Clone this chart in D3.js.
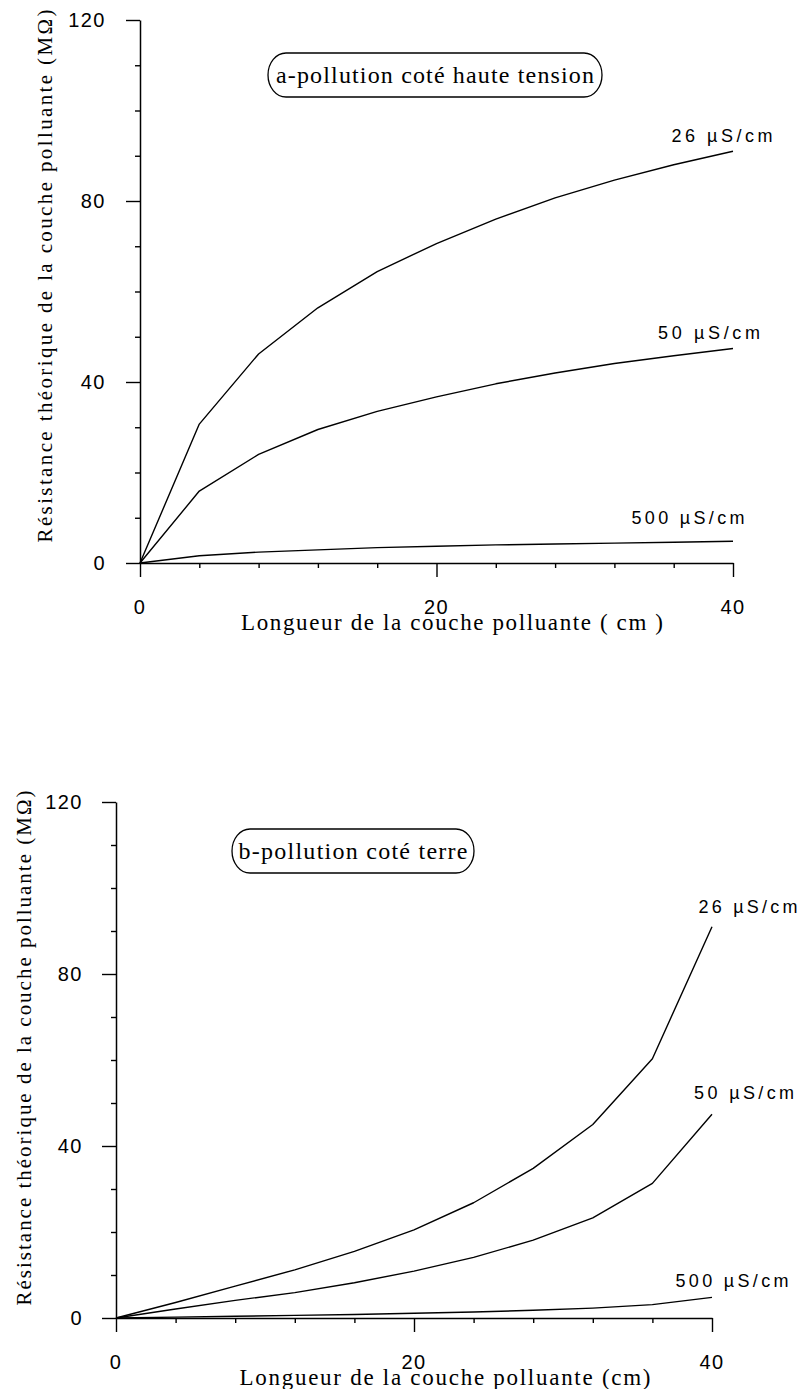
<!DOCTYPE html>
<html>
<head>
<meta charset="utf-8">
<script src="https://cdn.jsdelivr.net/npm/d3@7/dist/d3.min.js"></script>
<style>
  html, body { margin: 0; padding: 0; background: #fff; }
  svg { display: block; }
</style>
</head>
<body>
<script>
// Longueur de la couche polluante (cm)
const lengths = [0, 4, 8, 12, 16, 20, 24, 28, 32, 36, 40];

// Conductivités de la couche
const conductivities = ["26 µS/cm", "50 µS/cm", "500 µS/cm"];

// a - pollution côté haute tension : résistance (MΩ)
const rHT26  = [0, 30.7, 46.2, 56.4, 64.4, 70.6, 76.0, 80.7, 84.6, 88.0, 91.0];
const rHT50  = [0, 15.9, 24.0, 29.5, 33.5, 36.7, 39.6, 42.0, 44.1, 45.8, 47.4];
const rHT500 = [0, 1.6, 2.4, 2.9, 3.4, 3.7, 4.0, 4.2, 4.4, 4.6, 4.8];

// b - pollution côté terre : résistance (MΩ)
const rT26  = [0, 3.6, 7.4, 11.2, 15.5, 20.5, 26.8, 34.8, 45.0, 60.3, 91.0];
const rT50  = [0, 2.1, 4.1, 5.9, 8.2, 10.9, 14.1, 18.1, 23.3, 31.3, 47.4];
const rT500 = [0, 0.2, 0.4, 0.6, 0.8, 1.1, 1.4, 1.8, 2.3, 3.1, 4.8];

// Axes
const xMajorTicks = [0, 20, 40];
const xMinorTicks = [4, 8, 12, 16, 24, 28, 32, 36];
const yMajorTicks = [0, 40, 80, 120];
const yMinorTicks = [10, 20, 30, 50, 60, 70, 90, 100, 110];

const panelTitles = ["a-pollution coté haute tension", "b-pollution coté terre"];
const xAxisTitles = ["Longueur de la couche polluante ( cm )", "Longueur de la couche polluante (cm)"];
const yAxisTitle = "Résistance théorique de la couche polluante (MΩ)";

const W = 800, H = 1389;
const SANS = "'Liberation Sans', Arial, Helvetica, sans-serif";
const SERIF = "'Liberation Serif', 'Times New Roman', serif";

const svg = d3.select("body").append("svg")
  .attr("width", W).attr("height", H)
  .attr("viewBox", `0 0 ${W} ${H}`);
svg.append("rect").attr("width", W).attr("height", H).attr("fill", "#fff");

// Layout of the two stacked panels
const panels = [
  {
    series: [rHT26, rHT50, rHT500],
    title: panelTitles[0], xTitle: xAxisTitles[0],
    left: 140, right: 733, top: 20, bottom: 563,
    box: { x0: 268, x1: 602, y0: 53, y1: 97, textW: 318 },
    xTitlePos: { cx: 452, cy: 622, w: 422 },
    yTitlePos: { cx: 45, cy: 276, w: 533 },
    xLabelDy: 44, yLabelDx: 34,
    labelOffsets: [[-11, -15, 101], [-24, -16, 102], [-45, -23, 113]]
  },
  {
    series: [rT26, rT50, rT500],
    title: panelTitles[1], xTitle: xAxisTitles[1],
    left: 116, right: 712, top: 802, bottom: 1318,
    box: { x0: 232, x1: 474, y0: 829, y1: 873, textW: 229 },
    xTitlePos: { cx: 445, cy: 1377, w: 411 },
    yTitlePos: { cx: 24, cy: 1048, w: 515 },
    xLabelDy: 44, yLabelDx: 33,
    labelOffsets: [[36, -20, 99], [32, -21, 100], [20, -16, 113]]
  }
];

panels.forEach(p => {
  const x = d3.scaleLinear().domain([0, 40]).range([p.left, p.right]);
  const y = d3.scaleLinear().domain([0, 120]).range([p.bottom, p.top]);
  const g = svg.append("g");

  // x axis: minor then major ticks (outside, downward)
  const gx = g.append("g").attr("transform", `translate(0,${p.bottom})`);
  gx.append("g").call(d3.axisBottom(x).tickValues(xMinorTicks).tickSize(5).tickSizeOuter(0).tickFormat(""));
  gx.append("g").call(d3.axisBottom(x).tickValues(xMajorTicks).tickSize(14).tickSizeOuter(0).tickFormat(""))
    .select(".domain").remove();

  // y axis: minor then major ticks (outside, to the left)
  const gy = g.append("g").attr("transform", `translate(${p.left},0)`);
  gy.append("g").call(d3.axisLeft(y).tickValues(yMinorTicks).tickSize(5).tickSizeOuter(0).tickFormat(""));
  gy.append("g").call(d3.axisLeft(y).tickValues(yMajorTicks).tickSize(14).tickSizeOuter(0).tickFormat(""))
    .select(".domain").remove();

  g.selectAll(".domain").attr("stroke", "#000").attr("stroke-width", 1.5);
  g.selectAll(".tick line").attr("stroke", "#000").attr("stroke-width", 1.4);

  // tick labels
  g.append("g").selectAll("text").data(xMajorTicks).join("text")
    .attr("x", d => x(d)).attr("y", p.bottom + p.xLabelDy)
    .attr("text-anchor", "middle").attr("dominant-baseline", "central")
    .attr("font-family", SANS).attr("font-size", 20).attr("letter-spacing", 1.5)
    .attr("fill", "#000").text(d => d);

  g.append("g").selectAll("text").data(yMajorTicks).join("text")
    .attr("x", p.left - p.yLabelDx).attr("y", d => y(d))
    .attr("text-anchor", "end").attr("dominant-baseline", "central")
    .attr("font-family", SANS).attr("font-size", 20).attr("letter-spacing", 1.5)
    .attr("fill", "#000").text(d => d);

  // curves
  const line = d3.line().x((d, i) => x(lengths[i])).y(d => y(d)).curve(d3.curveLinear);
  g.append("g").selectAll("path").data(p.series).join("path")
    .attr("d", d => line(d))
    .attr("fill", "none").attr("stroke", "#000").attr("stroke-width", 1.4)
    .attr("stroke-linejoin", "round");

  // curve labels anchored to each curve's last point
  g.append("g").selectAll("text").data(p.series).join("text")
    .attr("x", (d, i) => x(lengths[lengths.length - 1]) + p.labelOffsets[i][0])
    .attr("y", (d, i) => y(d[d.length - 1]) + p.labelOffsets[i][1])
    .attr("text-anchor", "middle").attr("dominant-baseline", "central")
    .attr("font-family", SANS).attr("font-size", 18)
    .attr("textLength", (d, i) => p.labelOffsets[i][2]).attr("lengthAdjust", "spacing")
    .attr("fill", "#000").text((d, i) => conductivities[i]);

  // panel title in rounded box
  const b = p.box;
  g.append("rect")
    .attr("x", b.x0).attr("y", b.y0).attr("width", b.x1 - b.x0).attr("height", b.y1 - b.y0)
    .attr("rx", 18).attr("ry", 22)
    .attr("fill", "none").attr("stroke", "#000").attr("stroke-width", 1.3);
  g.append("text")
    .attr("x", (b.x0 + b.x1) / 2).attr("y", (b.y0 + b.y1) / 2)
    .attr("text-anchor", "middle").attr("dominant-baseline", "central")
    .attr("font-family", SERIF).attr("font-size", 24)
    .attr("textLength", b.textW).attr("lengthAdjust", "spacing")
    .attr("fill", "#000").text(p.title);

  // axis titles
  g.append("text")
    .attr("x", p.xTitlePos.cx).attr("y", p.xTitlePos.cy)
    .attr("text-anchor", "middle").attr("dominant-baseline", "central")
    .attr("font-family", SERIF).attr("font-size", 23)
    .attr("textLength", p.xTitlePos.w).attr("lengthAdjust", "spacing")
    .attr("fill", "#000").text(p.xTitle);

  g.append("text")
    .attr("transform", `translate(${p.yTitlePos.cx},${p.yTitlePos.cy}) rotate(-90)`)
    .attr("text-anchor", "middle").attr("dominant-baseline", "central")
    .attr("font-family", SERIF).attr("font-size", 21)
    .attr("textLength", p.yTitlePos.w).attr("lengthAdjust", "spacing")
    .attr("fill", "#000").text(yAxisTitle);
});
</script>
</body>
</html>
